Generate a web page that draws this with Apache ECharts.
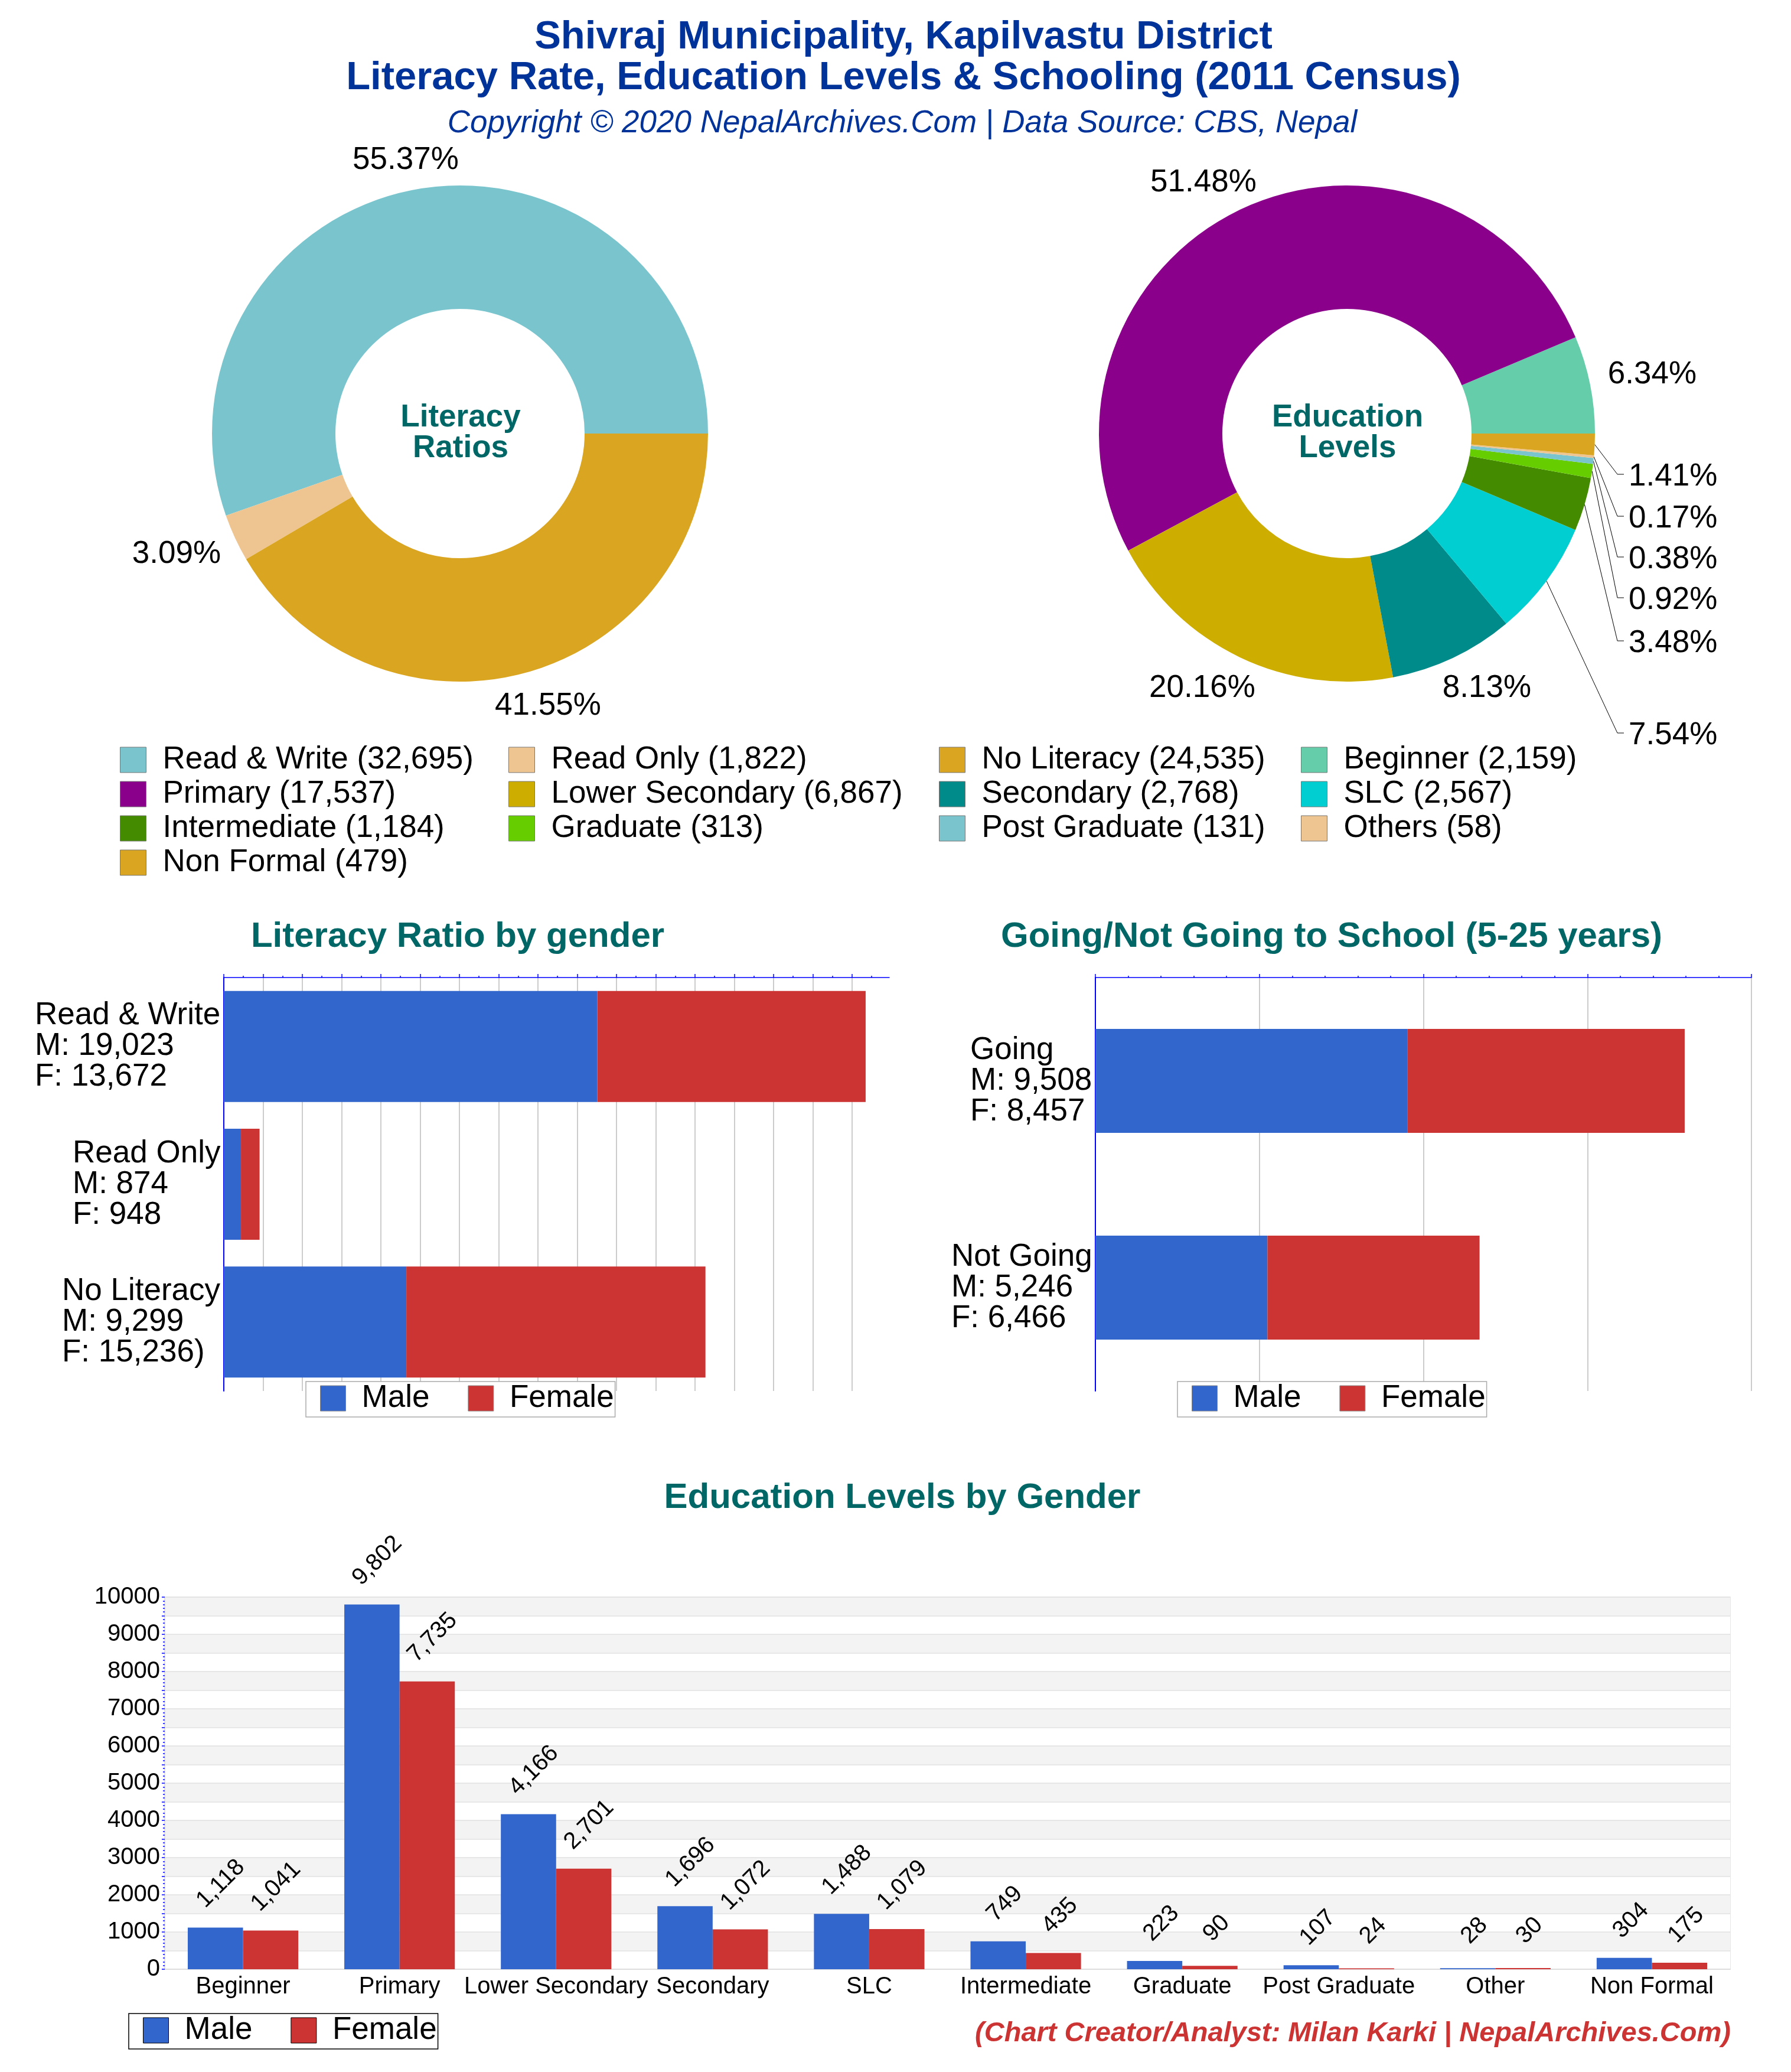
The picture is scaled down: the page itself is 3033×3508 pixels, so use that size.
<!DOCTYPE html>
<html>
<head>
<meta charset="utf-8">
<title>Shivraj Municipality literacy</title>
<script src="https://cdn.jsdelivr.net/npm/echarts@6/dist/echarts.min.js"></script>
<style>
  html, body { margin: 0; padding: 0; background: #fff; }
  #main { width: 3033px; height: 3508px; }
</style>
</head>
<body>
<div id="main"></div>
<script>
// pies
var literacyNames = ['Read & Write', 'Read Only', 'No Literacy'];
var literacyCounts = [32695, 1822, 24535];
var literacyColors = ['#7ac5cd', '#eec591', '#daa520'];
var levelNames = ['Beginner', 'Primary', 'Lower Secondary', 'Secondary', 'SLC', 'Intermediate', 'Graduate', 'Post Graduate', 'Others', 'Non Formal'];
var levelCounts = [2159, 17537, 6867, 2768, 2567, 1184, 313, 131, 58, 479];
var levelColors = ['#66cdaa', '#8b008b', '#cdad00', '#008b8b', '#00ced1', '#458b00', '#66cd00', '#7ac5cd', '#eec591', '#daa520'];

// literacy by gender
var literacyTicks = ['Read & Write\nM: 19,023\nF: 13,672', 'Read Only\nM: 874\nF: 948', 'No Literacy\nM: 9,299\nF: 15,236)'];
var literacyMale = [19023, 874, 9299];
var literacyFemale = [13672, 948, 15236];
var literacyAxisTicks = [0, 2000, 4000, 6000, 8000, 10000, 12000, 14000, 16000, 18000, 20000, 22000, 24000, 26000, 28000, 30000, 32000];

// going to school
var schoolTicks = ['Going\nM: 9,508\nF: 8,457', 'Not Going\nM: 5,246\nF: 6,466'];
var schoolMale = [9508, 5246];
var schoolFemale = [8457, 6466];

// education levels by gender
var levelTicks = ['Beginner', 'Primary', 'Lower Secondary', 'Secondary', 'SLC', 'Intermediate', 'Graduate', 'Post Graduate', 'Other', 'Non Formal'];
var levelMale = [1118, 9802, 4166, 1696, 1488, 749, 223, 107, 28, 304];
var levelFemale = [1041, 7735, 2701, 1072, 1079, 435, 90, 24, 30, 175];

var FONT = '"Liberation Sans", Arial, sans-serif';
var BLUE_TITLE = '#003399';
var TEAL = '#006666';
var MALE = '#3366cc';
var FEMALE = '#cc3333';

function fmt(n) { return n.toLocaleString('en-US'); }

function pieData(names, counts, colors, lined) {
  return names.map(function (n, i) {
    return {
      name: n + ' (' + fmt(counts[i]) + ')',
      value: counts[i],
      itemStyle: { color: colors[i] },
      labelLine: { show: !!lined[i] }
    };
  });
}

// where the percent labels sit: [x, y, align]
var literacyLabelAt = [[687, 271, 'center'], [299, 938, 'center'], [928, 1195, 'center']];
var levelLabelAt = [
  [2798, 634, 'center'], [2038, 309, 'center'], [2036, 1165, 'center'], [2518, 1165, 'center'],
  [2758, 1245, 'left'], [2758, 1089, 'left'], [2758, 1016, 'left'], [2758, 947, 'left'], [2758, 878, 'left'], [2758, 807, 'left']
];

function pieSeries(cx, data, labelAt, counts) {
  var total = counts.reduce(function (a, b) { return a + b; }, 0);
  return {
    type: 'pie',
    center: [cx, 734],
    radius: [211, 420],
    startAngle: 0,
    clockwise: false,
    avoidLabelOverlap: false,
    minShowLabelAngle: 0,
    data: data,
    emphasis: { disabled: true },
    label: {
      fontFamily: FONT, fontSize: 53, color: '#000',
      formatter: function (p) { return (p.value / total * 100).toFixed(2) + '%'; }
    },
    labelLine: { show: true, lineStyle: { color: '#000', width: 1 } },
    labelLayout: function (params) {
      var p = labelAt[params.dataIndex];
      var out = { x: p[0], y: p[1], align: p[2], verticalAlign: 'middle' };
      if (p[2] === 'left' && params.labelLinePoints) {
        out.labelLinePoints = [params.labelLinePoints[0], [2739, p[1] - 4], [2750, p[1] - 4]];
      }
      return out;
    }
  };
}

function pieLegend(left, names) {
  return {
    orient: 'vertical', left: left, top: 1260, padding: 0, icon: 'rect',
    itemWidth: 44, itemHeight: 43, itemGap: 5, selectedMode: false,
    itemStyle: { borderColor: '#777', borderWidth: 1 },
    textStyle: { fontFamily: FONT, fontSize: 53, lineHeight: 43, color: '#000', padding: [0, 0, 0, 23] },
    data: names
  };
}

function genderLegend(left, top, border) {
  return {
    left: left, top: top, orient: 'horizontal', icon: 'rect',
    padding: [2, 2, 5, 24], itemGap: 65,
    itemWidth: 43, itemHeight: 43, selectedMode: false,
    backgroundColor: '#fff', borderColor: border, borderWidth: 1.5,
    itemStyle: { borderColor: border === '#000' ? '#000' : '#888', borderWidth: 1 },
    textStyle: { fontFamily: FONT, fontSize: 53, lineHeight: 43, color: '#000', padding: [0, 0, 0, 22] },
    data: ['Male', 'Female'],
    z: 10
  };
}

// multi line axis labels are left aligned inside a block that ends at the axis
var measureCtx = document.createElement('canvas').getContext('2d');
function tickRich(ticks) {
  measureCtx.font = '53px ' + FONT;
  var rich = {};
  ticks.forEach(function (t, i) {
    var w = Math.max.apply(null, t.split('\n').map(function (l) { return measureCtx.measureText(l).width; }));
    rich['w' + i] = { width: Math.ceil(w), align: 'left', fontFamily: FONT, fontSize: 53, lineHeight: 52, color: '#000' };
  });
  return rich;
}
function tickFormatter(ticks) {
  return function (v) {
    var i = ticks.indexOf(v);
    return v.split('\n').map(function (l) { return '{w' + i + '|' + l + '}'; }).join('\n');
  };
}

function hValueAxis(gridIndex, max, interval, minorSplit, customTicks) {
  // the axis may stop past its last nice tick, that end gets no grid line
  var lineColor = customTicks ? customTicks.map(function () { return '#bbbbbb'; }).concat('transparent') : '#bbbbbb';
  return {
    type: 'value', gridIndex: gridIndex, position: 'top', min: 0, max: max, interval: interval,
    axisLine: { show: true, lineStyle: { color: '#0000ff', width: 1.5 } },
    axisTick: { show: true, length: 6, customValues: customTicks, lineStyle: { color: '#0000ff', width: 1.5 } },
    minorTick: { show: true, splitNumber: minorSplit, length: 3, lineStyle: { color: '#0000ff', width: 1.5 } },
    splitLine: { show: true, lineStyle: { color: lineColor, width: 1.5 } },
    axisLabel: { show: false }
  };
}
function hCatAxis(gridIndex, ticks) {
  return {
    type: 'category', gridIndex: gridIndex, inverse: true, data: ticks,
    axisLine: { show: true, lineStyle: { color: '#0000ff', width: 2 } },
    axisTick: { show: false },
    axisLabel: { interval: 0, margin: 5, align: 'right', formatter: tickFormatter(ticks), rich: tickRich(ticks) }
  };
}
function hBar(name, gridIndex, values, color, stack, width) {
  return { type: 'bar', name: name, xAxisIndex: gridIndex, yAxisIndex: gridIndex, stack: stack, data: values, barWidth: width, itemStyle: { color: color }, emphasis: { disabled: true } };
}
function levelBar(name, values, color) {
  return {
    type: 'bar', name: name, xAxisIndex: 2, yAxisIndex: 2, barWidth: '35.3%', barGap: 0,
    data: values.map(function (v) {
      var long = String(v).length > 3;
      return { value: v, label: { distance: long ? 65 : 52, offset: [long ? 13 : 16, 0] } };
    }),
    itemStyle: { color: color },
    emphasis: { disabled: true },
    label: {
      show: true, position: 'top', rotate: 45, align: 'center', verticalAlign: 'middle',
      fontFamily: FONT, fontSize: 40, color: '#000',
      formatter: function (p) { return fmt(p.value); }
    }
  };
}
function textTitle(text, x, y, size, color, extra) {
  var style = { fontFamily: FONT, fontSize: size, color: color, fontWeight: 'bold', lineHeight: size };
  if (extra) { Object.keys(extra).forEach(function (k) { style[k] = extra[k]; }); }
  return { text: text, left: x, top: y, textAlign: 'center', textVerticalAlign: 'middle', padding: 0, textStyle: style };
}

var option = {
  animation: false,
  backgroundColor: '#fff',
  title: [
    textTitle('Shivraj Municipality, Kapilvastu District', 1530, 64, 67, BLUE_TITLE),
    textTitle('Literacy Rate, Education Levels & Schooling (2011 Census)', 1530, 133, 67, BLUE_TITLE),
    textTitle('Copyright © 2020 NepalArchives.Com | Data Source: CBS, Nepal', 1528, 209, 53, BLUE_TITLE, { fontWeight: 'normal', fontStyle: 'italic' }),
    textTitle('Literacy', 780, 707, 53, TEAL),
    textTitle('Ratios', 780, 759, 53, TEAL),
    textTitle('Education', 2282, 707, 53, TEAL),
    textTitle('Levels', 2282, 759, 53, TEAL),
    textTitle('Literacy Ratio by gender', 775, 1586, 60, TEAL),
    textTitle('Going/Not Going to School (5-25 years)', 2255, 1586, 60, TEAL),
    textTitle('Education Levels by Gender', 1528, 2536, 60, TEAL),
    textTitle('(Chart Creator/Analyst: Milan Karki | NepalArchives.Com)', 2291, 3443, 47, FEMALE, { fontStyle: 'italic' })
  ],
  legend: [
    pieLegend(203, ['Read & Write (32,695)', 'Primary (17,537)', 'Intermediate (1,184)', 'Non Formal (479)']),
    pieLegend(861, ['Read Only (1,822)', 'Lower Secondary (6,867)', 'Graduate (313)']),
    pieLegend(1590, ['No Literacy (24,535)', 'Secondary (2,768)', 'Post Graduate (131)']),
    pieLegend(2203, ['Beginner (2,159)', 'SLC (2,567)', 'Others (58)']),
    genderLegend(518, 2339, '#aaaaaa'),
    genderLegend(1994, 2339, '#aaaaaa'),
    genderLegend(218, 3409, '#000')
  ],
  grid: [
    { left: 379, top: 1655, width: 1127, height: 700 },
    { left: 1855, top: 1655, width: 1111, height: 700 },
    { left: 279, top: 2704, width: 2651, height: 630, show: true, borderColor: '#e0e0e0', borderWidth: 1.5 }
  ],
  xAxis: [
    hValueAxis(0, 33900, 2000, 2, literacyAxisTicks),
    hValueAxis(1, 20000, 5000, 5),
    {
      type: 'category', gridIndex: 2, data: levelTicks,
      axisLine: { show: true, lineStyle: { color: '#dddddd', width: 2 } },
      axisTick: { show: false },
      axisLabel: { interval: 0, margin: 10, fontFamily: FONT, fontSize: 40, color: '#000' }
    }
  ],
  yAxis: [
    hCatAxis(0, literacyTicks),
    hCatAxis(1, schoolTicks),
    {
      type: 'value', gridIndex: 2, min: 0, max: 10000, interval: 500,
      axisLine: { show: true, lineStyle: { color: '#dddddd', width: 1.5 } },
      axisTick: { show: true, length: 5, lineStyle: { color: '#0000ff', width: 1.5 } },
      minorTick: { show: true, splitNumber: 5, length: 3, lineStyle: { color: '#0000ff', width: 1.5 } },
      splitLine: { show: true, lineStyle: { color: '#e0e0e0', width: 1.5 } },
      splitArea: { show: true, areaStyle: { color: ['#ffffff', '#f3f3f3'] } },
      axisLabel: {
        margin: 8, fontFamily: FONT, fontSize: 40, color: '#000',
        formatter: function (v) { return v % 1000 === 0 ? String(v) : ''; }
      }
    }
  ],
  series: [
    pieSeries(779, pieData(literacyNames, literacyCounts, literacyColors, [0, 0, 0]), literacyLabelAt, literacyCounts),
    pieSeries(2281, pieData(levelNames, levelCounts, levelColors, [0, 0, 0, 0, 1, 1, 1, 1, 1, 1]), levelLabelAt, levelCounts),
    hBar('Male', 0, literacyMale, MALE, 'lit', 188),
    hBar('Female', 0, literacyFemale, FEMALE, 'lit', 188),
    hBar('Male', 1, schoolMale, MALE, 'school', 176),
    hBar('Female', 1, schoolFemale, FEMALE, 'school', 176),
    levelBar('Male', levelMale, MALE),
    levelBar('Female', levelFemale, FEMALE)
  ]
};

var chart = echarts.init(document.getElementById('main'), null, { renderer: 'canvas', width: 3033, height: 3508 });
chart.setOption(option);
</script>
</body>
</html>
